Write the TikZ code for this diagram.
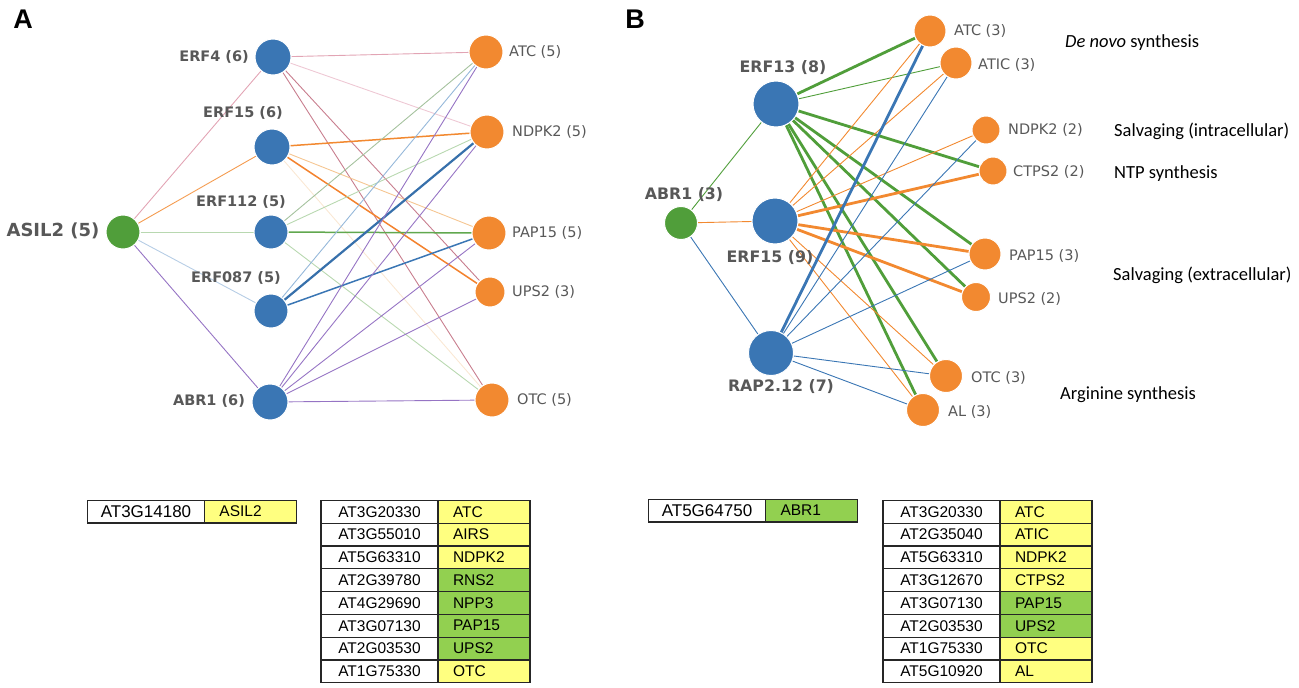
\documentclass[tikz,border=0pt]{standalone}
\usepackage{fontspec}
\usepackage{xcolor}
\usepackage{tikz}
\usetikzlibrary{matrix,backgrounds}
\newfontfamily\netfont{DejaVu Sans}
\newfontfamily\tabfont{Liberation Sans}
\newfontfamily\catfont{Carlito}
\definecolor{tfblue}{RGB}{58,118,180}
\definecolor{geneorange}{RGB}{242,137,48}
\definecolor{rootgreen}{RGB}{80,158,58}
\definecolor{labgrey}{RGB}{88,88,88}
\definecolor{cellyellow}{RGB}{255,255,128}
\definecolor{cellgreen}{RGB}{146,208,80}
\definecolor{pinkedge}{RGB}{226,164,180}
\definecolor{lpinkedge}{RGB}{238,200,212}
\definecolor{roseedge}{RGB}{200,126,142}
\definecolor{lorange}{RGB}{245,198,146}
\definecolor{forange}{RGB}{250,232,212}
\definecolor{lgreen}{RGB}{184,216,176}
\definecolor{lblue}{RGB}{150,184,218}
\definecolor{purpedge}{RGB}{150,116,196}
\tikzset{tfnode/.style={circle, fill=tfblue, draw=white, line width=1pt, inner sep=0pt}}
\tikzset{genenode/.style={circle, fill=geneorange, draw=white, line width=1pt, inner sep=0pt}}
\tikzset{rootnode/.style={circle, fill=rootgreen, draw=white, line width=1pt, inner sep=0pt}}
\tikzset{tflabel/.style={font=\netfont\bfseries\fontsize{14.5}{16}\selectfont, text=labgrey, inner sep=0pt}}
\tikzset{genelabel/.style={font=\netfont\fontsize{14.5}{16}\selectfont, text=labgrey, inner sep=0pt, anchor=west}}
\tikzset{catlabel/.style={font=\catfont\fontsize{18.5}{20}\selectfont, inner sep=0pt, anchor=west}}
\tikzset{panel/.style={font=\tabfont\bfseries\fontsize{27}{29}\selectfont, inner sep=0pt}}
\tikzset{wedge/.style={line width=0.9pt}}
\tikzset{medge/.style={line width=1.5pt}}
\tikzset{sedge/.style={line width=2.8pt}}
\tikzset{genetab/.style={matrix of nodes, column sep=-1.2pt, row sep=-1.2pt,
    nodes={draw=black!85, line width=1.2pt, minimum height=22.8pt, inner ysep=0pt,
      anchor=center, font=\tabfont\fontsize{15.5}{17}\selectfont},
    column 1/.style={nodes={minimum width=117pt}},
    column 2/.style={nodes={text width=62pt, inner xsep=15pt, align=left}}}}
\tikzset{yel/.style={fill=cellyellow}, grn/.style={fill=cellgreen}}
\tikzset{bigid/.style={font=\tabfont\fontsize{17}{19}\selectfont}}

\begin{document}
\begin{tikzpicture}[x=1pt, y=-1pt]
    \useasboundingbox (0,0) rectangle (1299,688);

    % panel A
    \node[panel] (pA) at (23,19) {A};
    \node[rootnode, minimum size=34pt] (aASIL) at (123,232) {};
    \node[tfnode, minimum size=36pt] (aERF4) at (273,57) {};
    \node[tfnode, minimum size=36pt] (aERF15) at (272,147) {};
    \node[tfnode, minimum size=34pt] (aERF112) at (271,232) {};
    \node[tfnode, minimum size=34pt] (aERF087) at (271,311) {};
    \node[tfnode, minimum size=36pt] (aABR1) at (270,402) {};
    \node[genenode, minimum size=34pt] (aATC) at (486,52) {};
    \node[genenode, minimum size=34pt] (aNDPK2) at (487,132) {};
    \node[genenode, minimum size=34pt] (aPAP15) at (489,233) {};
    \node[genenode, minimum size=30pt] (aUPS2) at (490,292) {};
    \node[genenode, minimum size=34pt] (aOTC) at (492,400) {};

    \node[tflabel, font=\netfont\bfseries\fontsize{18}{20}\selectfont] (laASIL) at (53,231) {ASIL2 (5)};
    \node[tflabel, anchor=east] (laERF4) at (249,57) {ERF4 (6)};
    \node[tflabel] (laERF15) at (243,113) {ERF15 (6)};
    \node[tflabel] (laERF112) at (241,202) {ERF112 (5)};
    \node[tflabel] (laERF087) at (236,278) {ERF087 (5)};
    \node[tflabel] (laABR1) at (209,401) {ABR1 (6)};
    \node[genelabel] (laATC) at (509,52) {ATC (5)};
    \node[genelabel] (laNDPK2) at (512,132) {NDPK2 (5)};
    \node[genelabel] (laPAP15) at (512,233) {PAP15 (5)};
    \node[genelabel] (laUPS2) at (512,292) {UPS2 (3)};
    \node[genelabel] (laOTC) at (517,400) {OTC (5)};

    \begin{scope}[on background layer]
    \draw[wedge, pinkedge] (aASIL) -- (aERF4);
    \draw[wedge, geneorange!85] (aASIL) -- (aERF15);
    \draw[wedge, lgreen] (aASIL) -- (aERF112);
    \draw[wedge, lblue!70] (aASIL) -- (aERF087);
    \draw[wedge, purpedge] (aASIL) -- (aABR1);

    \draw[wedge, pinkedge] (aERF4) -- (aATC);
    \draw[wedge, lpinkedge] (aERF4) -- (aNDPK2);
    \draw[wedge, roseedge] (aERF4) -- (aUPS2);
    \draw[wedge, roseedge] (aERF4) -- (aOTC);

    \draw[medge, geneorange] (aERF15) -- (aNDPK2);
    \draw[wedge, lorange] (aERF15) -- (aPAP15);
    \draw[medge, geneorange!95!red] (aERF15) -- (aUPS2);
    \draw[wedge, forange] (aERF15) -- (aOTC);

    \draw[wedge, lgreen!90!black] (aERF112) -- (aATC);
    \draw[wedge, lgreen] (aERF112) -- (aNDPK2);
    \draw[medge, rootgreen!90] (aERF112) -- (aPAP15);
    \draw[wedge, lgreen] (aERF112) -- (aOTC);

    \draw[wedge, lblue] (aERF087) -- (aATC);
    \draw[line width=2.2pt, tfblue!95!black] (aERF087) -- (aNDPK2);
    \draw[medge, tfblue] (aERF087) -- (aPAP15);

    \draw[wedge, purpedge] (aABR1) -- (aATC);
    \draw[wedge, purpedge] (aABR1) -- (aNDPK2);
    \draw[wedge, purpedge] (aABR1) -- (aPAP15);
    \draw[wedge, purpedge] (aABR1) -- (aUPS2);
    \draw[wedge, purpedge] (aABR1) -- (aOTC);
    \end{scope}

    % panel B
    \node[panel] (pB) at (635,19) {B};
    \node[rootnode, minimum size=33pt] (bABR1) at (681,223) {};
    \node[tfnode, minimum size=46pt] (bERF13) at (776,104) {};
    \node[tfnode, minimum size=46pt] (bERF15) at (775,221) {};
    \node[tfnode, minimum size=45pt] (bRAP) at (771,353) {};
    \node[genenode, minimum size=32pt] (bATC) at (930,31) {};
    \node[genenode, minimum size=32pt] (bATIC) at (956,63) {};
    \node[genenode, minimum size=28pt] (bNDPK2) at (986,130) {};
    \node[genenode, minimum size=28pt] (bCTPS2) at (993,171) {};
    \node[genenode, minimum size=32pt] (bPAP15) at (985,254) {};
    \node[genenode, minimum size=29pt] (bUPS2) at (976,297) {};
    \node[genenode, minimum size=33pt] (bOTC) at (946,376) {};
    \node[genenode, minimum size=33pt] (bAL) at (923,410) {};

    \node[tflabel, font=\netfont\bfseries\fontsize{15.8}{18}\selectfont] (lbABR1) at (684,195) {ABR1 (3)};
    \node[tflabel, font=\netfont\bfseries\fontsize{15.8}{18}\selectfont] (lbERF13) at (783,68) {ERF13 (8)};
    \node[tflabel, font=\netfont\bfseries\fontsize{15.8}{18}\selectfont] (lbERF15) at (770,258) {ERF15 (9)};
    \node[tflabel, font=\netfont\bfseries\fontsize{15.8}{18}\selectfont] (lbRAP) at (781,387) {RAP2.12 (7)};
    \node[genelabel] (lbATC) at (954,31) {ATC (3)};
    \node[genelabel] (lbATIC) at (978,65) {ATIC (3)};
    \node[genelabel] (lbNDPK2) at (1008,130) {NDPK2 (2)};
    \node[genelabel] (lbCTPS2) at (1013,172) {CTPS2 (2)};
    \node[genelabel] (lbPAP15) at (1009,256) {PAP15 (3)};
    \node[genelabel] (lbUPS2) at (998,299) {UPS2 (2)};
    \node[genelabel] (lbOTC) at (971,378) {OTC (3)};
    \node[genelabel] (lbAL) at (948,412) {AL (3)};

    \node[catlabel] (cDenovo) at (1065,43) {\textit{De novo} synthesis};
    \node[catlabel] (cIntra) at (1114,131) {Salvaging (intracellular)};
    \node[catlabel] (cNTP) at (1114,174) {NTP synthesis};
    \node[catlabel] (cExtra) at (1113,275) {Salvaging (extracellular)};
    \node[catlabel] (cArg) at (1060,395) {Arginine synthesis};

    \begin{scope}[on background layer]
    \draw[wedge, rootgreen] (bABR1) -- (bERF13);
    \draw[wedge, geneorange] (bABR1) -- (bERF15);
    \draw[wedge, tfblue] (bABR1) -- (bRAP);

    \draw[sedge, rootgreen] (bERF13) -- (bATC);
    \draw[wedge, rootgreen] (bERF13) -- (bATIC);
    \draw[sedge, rootgreen] (bERF13) -- (bCTPS2);
    \draw[sedge, rootgreen] (bERF13) -- (bPAP15);
    \draw[sedge, rootgreen] (bERF13) -- (bUPS2);
    \draw[sedge, rootgreen] (bERF13) -- (bOTC);
    \draw[sedge, rootgreen] (bERF13) -- (bAL);

    \draw[wedge, geneorange] (bERF15) -- (bATC);
    \draw[wedge, geneorange] (bERF15) -- (bATIC);
    \draw[wedge, geneorange] (bERF15) -- (bNDPK2);
    \draw[sedge, geneorange] (bERF15) -- (bCTPS2);
    \draw[sedge, geneorange] (bERF15) -- (bPAP15);
    \draw[sedge, geneorange] (bERF15) -- (bUPS2);
    \draw[wedge, geneorange] (bERF15) -- (bOTC);
    \draw[wedge, geneorange] (bERF15) -- (bAL);

    \draw[sedge, tfblue] (bRAP) -- (bATC);
    \draw[wedge, tfblue] (bRAP) -- (bATIC);
    \draw[wedge, tfblue] (bRAP) -- (bNDPK2);
    \draw[wedge, tfblue] (bRAP) -- (bPAP15);
    \draw[wedge, tfblue] (bRAP) -- (bOTC);
    \draw[wedge, tfblue] (bRAP) -- (bAL);
    \end{scope}

    % gene tables
    \matrix[genetab] (tA1) at (192,511.5) {
        |[bigid]| AT3G14180 & |[yel]| ASIL2 \\
    };
    \matrix[genetab] (tA2) at (425.5,591.5) {
        AT3G20330 & |[yel]| ATC \\
        AT3G55010 & |[yel]| AIRS \\
        AT5G63310 & |[yel]| NDPK2 \\
        AT2G39780 & |[grn]| RNS2 \\
        AT4G29690 & |[grn]| NPP3 \\
        AT3G07130 & |[grn]| PAP15 \\
        AT2G03530 & |[grn]| UPS2 \\
        AT1G75330 & |[yel]| OTC \\
    };
    \matrix[genetab] (tB1) at (753,510.5) {
        |[bigid]| AT5G64750 & |[grn]| ABR1 \\
    };
    \matrix[genetab] (tB2) at (987.5,591.5) {
        AT3G20330 & |[yel]| ATC \\
        AT2G35040 & |[yel]| ATIC \\
        AT5G63310 & |[yel]| NDPK2 \\
        AT3G12670 & |[yel]| CTPS2 \\
        AT3G07130 & |[grn]| PAP15 \\
        AT2G03530 & |[grn]| UPS2 \\
        AT1G75330 & |[yel]| OTC \\
        AT5G10920 & |[yel]| AL \\
    };
\end{tikzpicture}
\end{document}
